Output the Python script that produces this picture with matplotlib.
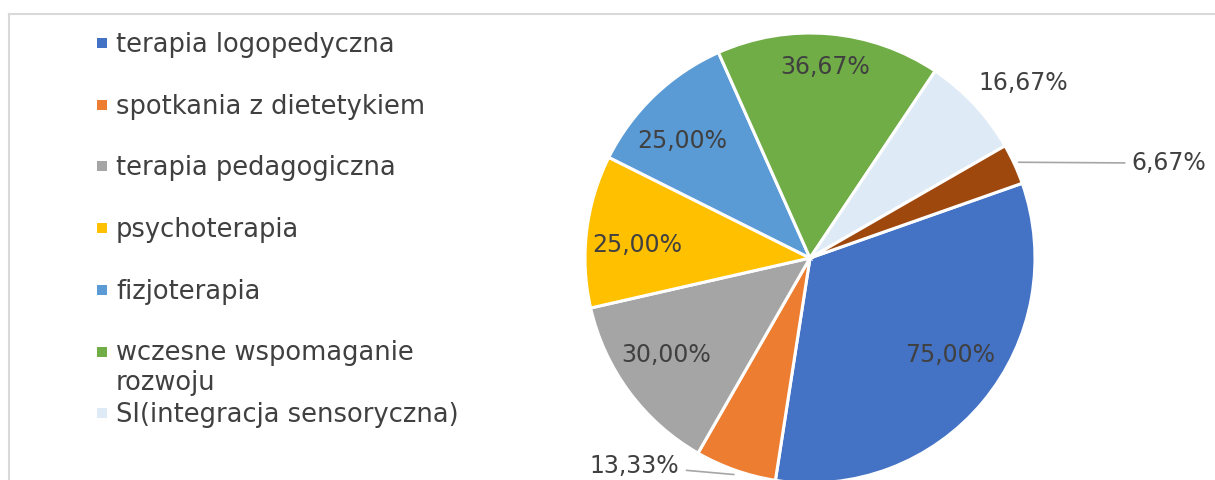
import math
import matplotlib.pyplot as plt
from matplotlib.lines import Line2D
from matplotlib.patches import Rectangle

categories = [
    "terapia logopedyczna",
    "spotkania z dietetykiem",
    "terapia pedagogiczna",
    "psychoterapia",
    "fizjoterapia",
    "wczesne wspomaganie\nrozwoju",
    "SI(integracja sensoryczna)",
]
values = [75.00, 13.33, 30.00, 25.00, 25.00, 36.67, 16.67, 6.67]
colors = ["#4472C4", "#ED7D31", "#A5A5A5", "#FFC000", "#5B9BD5",
          "#70AD47", "#DEEBF7", "#9E480E"]
# label distance from centre (in radii); None = outside with leader line
label_dist = [0.76, None, 0.77, 0.77, 0.77, 0.85, 1.225, None]
# small angular nudges (deg) like Excel's best-fit placement
label_nudge = [5.0, 0, -2.5, 2.6, 4.0, 0.4, -3.7, 0]

TXT = "#404040"
FONT = "DejaVu Sans"
W, H = 1215, 480
cx, cy, r = 810, 258, 225

fig = plt.figure(figsize=(W / 100, H / 100), dpi=100)
ax = fig.add_axes([0, 0, 1, 1])

wedges, _ = ax.pie(
    values,
    colors=colors,
    startangle=19.4,
    counterclock=False,
    radius=1,
    wedgeprops=dict(edgecolor="white", linewidth=2.2),
)
ax.set_xlim(-cx / r, (W - cx) / r)
ax.set_ylim((cy - H) / r, cy / r)
ax.axis("off")


def fmt(v):
    return f"{v:.2f}".replace(".", ",") + "%"


for i, (w, v) in enumerate(zip(wedges, values)):
    mid = math.radians((w.theta1 + w.theta2) / 2)
    ex, ey = math.cos(mid), math.sin(mid)
    d = label_dist[i]
    if d is not None:
        a = mid + math.radians(label_nudge[i])
        ax.text(d * math.cos(a), d * math.sin(a), fmt(v), ha="center",
                va="center", fontsize=17, color=TXT, family=FONT)
    else:
        if ex > 0:
            xt, ha = 1.43, "left"
            yt = ey * 1.01
        else:
            xt, ha = -0.58, "right"
            yt = ey * 1.0 + 0.02
        ax.annotate(fmt(v), xy=(ex * 1.02, ey * 1.02), xytext=(xt, yt),
                    ha=ha, va="center", fontsize=17, color=TXT, family=FONT,
                    arrowprops=dict(arrowstyle="-", color="#A6A6A6", lw=1.2,
                                    shrinkA=3, shrinkB=0))

# legend drawn by hand so the marker sits on the first line
for i, name in enumerate(categories):
    py = 43 + 61.7 * i
    fig.add_artist(Rectangle((97 / W, 1 - (py + 5) / H), 10 / W, 10 / H,
                             transform=fig.transFigure, color=colors[i], lw=0))
    for k, line in enumerate(name.split("\n")):
        fig.text(116 / W, 1 - (py + 9 + 30 * k) / H, line, ha="left",
                 va="baseline", fontsize=18.5, color=TXT, family=FONT)

# chart border (top and left edges visible)
fig.add_artist(Line2D([9 / W, 1], [1 - 14 / H, 1 - 14 / H],
                      transform=fig.transFigure, color="#D9D9D9", lw=1.5))
fig.add_artist(Line2D([9 / W, 9 / W], [1 - 14 / H, 0],
                      transform=fig.transFigure, color="#D9D9D9", lw=1.5))

fig.savefig("out.png", dpi=100)
